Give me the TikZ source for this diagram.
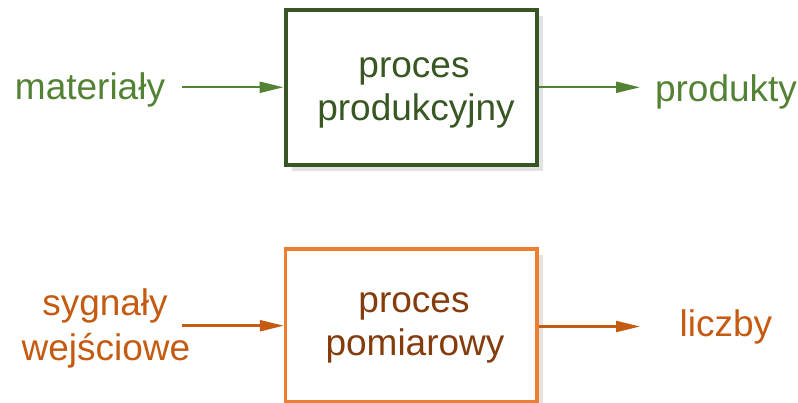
\documentclass[tikz,border=0pt]{standalone}
\usepackage{fontspec}
\setmainfont{Liberation Sans}
\usetikzlibrary{arrows.meta,shadows}
\definecolor{gtext}{HTML}{548235}
\definecolor{gbox}{HTML}{375623}
\definecolor{gin}{HTML}{385723}
\definecolor{otext}{HTML}{C55A11}
\definecolor{obox}{HTML}{ED7D31}
\definecolor{oin}{HTML}{843C0C}
\definecolor{shade}{HTML}{E3E3E3}
\tikzset{
  lbl/.style={anchor=base, inner sep=0pt, font=\fontsize{37}{43}\selectfont},
  procbox/.style={draw, fill=white, minimum width=251.5pt, inner sep=0pt,
    drop shadow={shadow xshift=6pt, shadow yshift=-6pt, fill=shade, opacity=1, draw=none}},
  flow/.style={line width=2.4pt, -{Triangle[length=24pt,width=11pt]}},
}
\begin{document}
\begin{tikzpicture}[x=1pt,y=-1pt]
\useasboundingbox (0,0) rectangle (798,403);
% boxes
\node[procbox, draw=gbox, line width=4pt, minimum height=154.4pt] (b1) at (411.25,87.5) {};
\node[procbox, draw=obox, line width=3.5pt, minimum height=152.5pt] (b2) at (411.25,325.2) {};
% box texts
\node[lbl, text=gin] (b1a) at (414,77.5) {proces};
\node[lbl, text=gin] (b1b) at (416,120.5) {produkcyjny};
\node[lbl, text=oin] (b2a) at (414,312.3) {proces};
\node[lbl, text=oin] (b2b) at (415,355.7) {pomiarowy};
% outer labels
\node[lbl, text=gtext] (mat) at (90,99.3) {materiały};
\node[lbl, text=gtext] (prod) at (726,101.8) {produkty};
\node[lbl, text=otext] (syg1) at (105,315.7) {sygnały};
\node[lbl, text=otext] (syg2) at (106,360) {wejściowe};
\node[lbl, text=otext] (licz) at (726,336.5) {liczby};
% connectors
\coordinate (a1) at (182,87.3);
\coordinate (a2) at (640,87.3);
\coordinate (a3) at (182,325.7);
\coordinate (a4) at (640,326.5);
\draw[flow, draw=gtext, fill=gtext] (a1) -- (b1.west |- a1);
\draw[flow, draw=gtext, fill=gtext] (b1.east |- a2) -- (a2);
\draw[flow, draw=otext, fill=otext] (a3) -- (b2.west |- a3);
\draw[flow, draw=otext, fill=otext] (b2.east |- a4) -- (a4);
\end{tikzpicture}
\end{document}
